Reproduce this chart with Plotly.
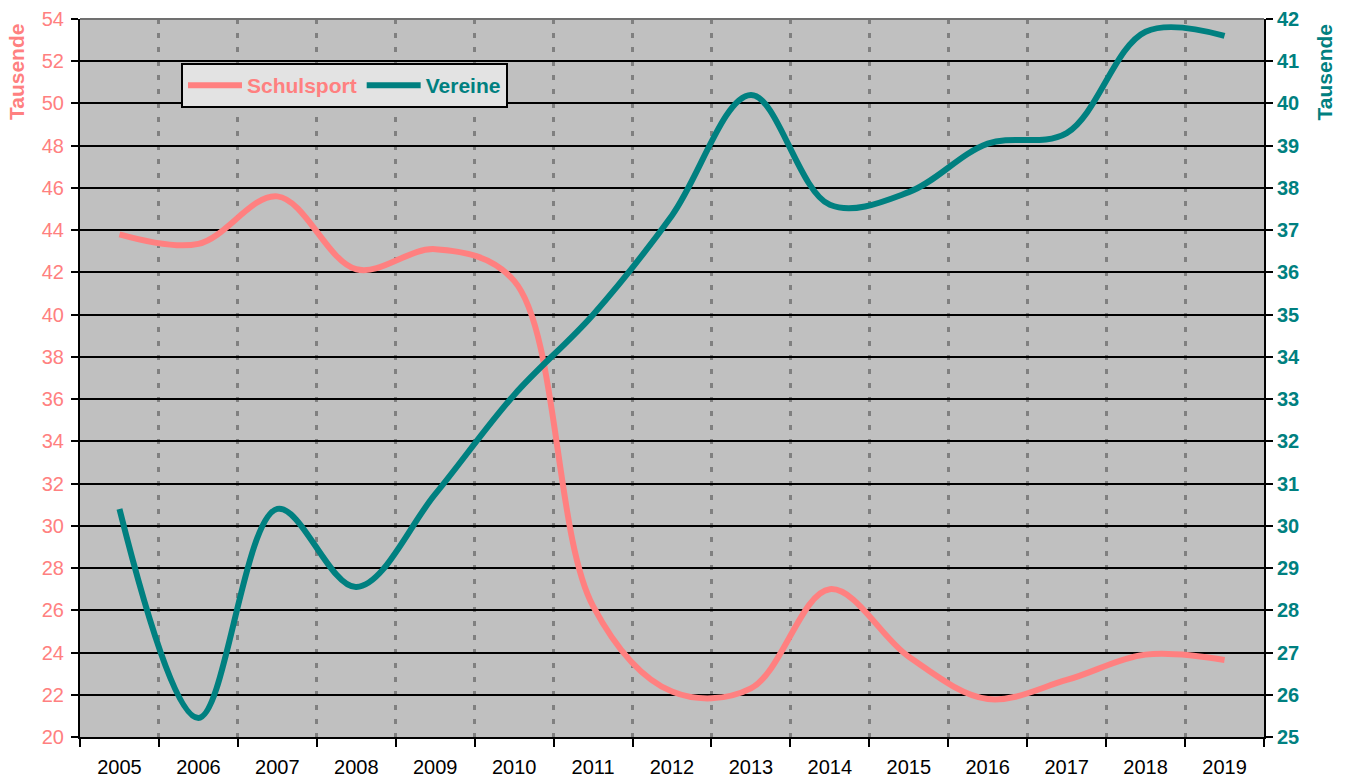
import plotly.graph_objects as go

# Jahreswerte in Tausend
years = list(range(2005, 2020))
schulsport = [43.8, 43.35, 45.6, 42.15, 43.1, 41.6, 26.2, 22.15, 22.3, 27.0, 23.8, 21.8, 22.7, 23.9, 23.65]
vereine = [30.4, 25.45, 30.4, 28.55, 30.75, 33.1, 35.0, 37.35, 40.2, 37.6, 37.9, 39.05, 39.3, 41.7, 41.6]

left_ticks = list(range(20, 56, 2))
right_ticks = list(range(25, 43))
year_bounds = [y - 0.5 for y in years] + [years[-1] + 0.5]

SALMON = "#FF8080"
TEAL = "#008080"
FONT = "Liberation Sans, Arial, sans-serif"


def coloured(label, colour):
    return f"<span style='color:{colour}'>{label}</span>"


fig = go.Figure()
fig.add_trace(go.Scatter(
    x=years, y=schulsport, name=coloured("Schulsport", SALMON), mode="lines",
    line=dict(color=SALMON, width=6, shape="spline", smoothing=1.0),
    yaxis="y",
))
fig.add_trace(go.Scatter(
    x=years, y=vereine, name=coloured("Vereine", TEAL), mode="lines",
    line=dict(color=TEAL, width=6, shape="spline", smoothing=1.0),
    yaxis="y2",
))

fig.update_layout(
    width=1347, height=778,
    margin=dict(l=80, r=83, t=19, b=41, autoexpand=False),
    paper_bgcolor="white",
    plot_bgcolor="#C0C0C0",
    font=dict(family=FONT, size=20, color="black"),
    showlegend=True,
    legend=dict(
        orientation="h",
        x=0.0853, y=0.9387, xanchor="left", yanchor="top",
        bgcolor="#E3E3E3", bordercolor="black", borderwidth=2,
        font=dict(family=FONT, size=21, weight="bold"),
        itemwidth=54,
        tracegroupgap=0,
    ),
    xaxis=dict(
        range=[years[0] - 0.5, years[-1] + 0.5],
        tickmode="array", tickvals=years, ticktext=[str(y) for y in years],
        ticks="", showgrid=False, zeroline=False, automargin=False,
        showline=True, linecolor="black", linewidth=2,
        tickfont=dict(family=FONT, size=20, color="black"),
        ticklabelstandoff=11,
        minor=dict(
            tickmode="array", tickvals=year_bounds,
            ticks="outside", ticklen=8, tickwidth=2, tickcolor="black",
            showgrid=True, gridcolor="#808080", gridwidth=3, griddash="5px,9px",
        ),
    ),
    yaxis=dict(
        range=[20, 54], tickmode="array", tickvals=left_ticks,
        ticks="outside", ticklen=7, tickwidth=2, tickcolor="black",
        showline=True, linecolor="black", linewidth=2,
        showgrid=False, zeroline=False, automargin=False,
        tickfont=dict(family=FONT, size=20, color=SALMON),
        ticklabelstandoff=3,
        minor=dict(
            tickmode="array", tickvals=left_ticks[1:-1],
            ticks="", showgrid=True, gridcolor="black", gridwidth=2,
        ),
    ),
    yaxis2=dict(
        range=[25, 42], tickmode="array", tickvals=right_ticks,
        overlaying="y", side="right",
        ticks="outside", ticklen=7, tickwidth=2, tickcolor="black",
        showline=True, linecolor="black", linewidth=2,
        showgrid=False, zeroline=False, automargin=False,
        tickfont=dict(family=FONT, size=20, color=TEAL, weight="bold"),
    ),
    shapes=[dict(
        type="line", xref="paper", yref="paper", x0=0, x1=1, y0=1, y1=1,
        line=dict(color="#707070", width=2), layer="above",
    )],
    annotations=[
        dict(text="Tausende", xref="paper", yref="paper", x=-0.0536, y=0.9255,
             xanchor="center", yanchor="middle", textangle=-90, showarrow=False,
             font=dict(family=FONT, size=21, color=SALMON, weight="bold")),
        dict(text="Tausende", xref="paper", yref="paper", x=1.0515, y=0.9255,
             xanchor="center", yanchor="middle", textangle=-90, showarrow=False,
             font=dict(family=FONT, size=21, color=TEAL, weight="bold")),
    ],
)

fig.write_html("out.html")
